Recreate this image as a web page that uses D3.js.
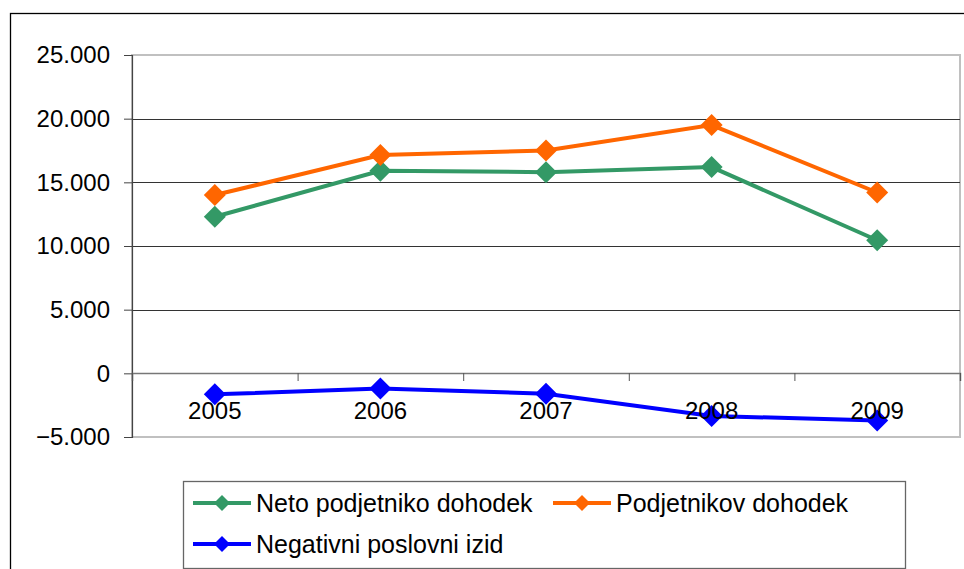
<!DOCTYPE html>
<html>
<head>
<meta charset="utf-8">
<script src="https://cdn.jsdelivr.net/npm/d3@7"></script>
<style>
  body { margin: 0; background: #fff; }
  svg { display: block; font-family: "Liberation Sans", Arial, sans-serif; }
</style>
</head>
<body>
<div id="chart-area"></div>
<script>
// data
var years = ['2005', '2006', '2007', '2008', '2009'];
var neto = [12300, 15900, 15800, 16200, 10450];
var podjetnikov = [14000, 17150, 17500, 19500, 14200];
var negativni = [-1650, -1200, -1600, -3350, -3700];
var yTicks = [-5000, 0, 5000, 10000, 15000, 20000, 25000];

var seriesNames = ['Neto podjetniko dohodek', 'Podjetnikov dohodek', 'Negativni poslovni izid'];
var seriesColors = ['#339966', '#ff6600', '#0000ff'];

var svgWidth = 964, svgHeight = 569;
var plot = {left: 132, right: 960, top: 55, bottom: 437};

var svg = d3.select('#chart-area')
  .append('svg')
  .attr('width', svgWidth)
  .attr('height', svgHeight);

// outer chart border (runs off the right and bottom edge)
svg.append('rect')
  .attr('x', 10.5).attr('y', 13.5)
  .attr('width', 1000).attr('height', 600)
  .attr('fill', 'none')
  .attr('stroke', '#000')
  .attr('stroke-width', 1.3);

var xScale = d3.scaleBand()
  .domain(years)
  .range([plot.left, plot.right])
  .padding(0);

var yScale = d3.scaleLinear()
  .domain([-5000, 25000])
  .range([plot.bottom, plot.top]);

var cx = function(d, i) { return xScale(years[i]) + xScale.bandwidth() / 2; };

var locale = d3.formatLocale({decimal: ',', thousands: '.', grouping: [3], currency: ['', '']});
var fmt = locale.format(',');

// plot area border
svg.append('rect')
  .attr('x', plot.left).attr('y', plot.top)
  .attr('width', plot.right - plot.left)
  .attr('height', plot.bottom - plot.top)
  .attr('fill', 'none')
  .attr('stroke', '#c0c0c0')
  .attr('stroke-width', 2);

// gridlines
svg.append('g')
  .selectAll('line')
  .data(yTicks.filter(function(t) { return t !== 0 && t !== 25000 && t !== -5000; }))
  .enter().append('line')
  .attr('x1', plot.left).attr('x2', plot.right)
  .attr('y1', function(d) { return Math.round(yScale(d)) + 0.5; })
  .attr('y2', function(d) { return Math.round(yScale(d)) + 0.5; })
  .attr('stroke', '#333')
  .attr('stroke-width', 1.2);

// y axis
var yAxis = d3.axisLeft(yScale)
  .tickValues(yTicks)
  .tickSize(8)
  .tickPadding(14)
  .tickFormat(function(d) { return fmt(d); });

var gy = svg.append('g')
  .attr('transform', 'translate(' + plot.left + ',0)')
  .call(yAxis);
gy.select('.domain').attr('stroke', '#444').attr('stroke-width', 1.2);
gy.selectAll('line').attr('stroke', '#444');
gy.selectAll('text')
  .attr('font-size', 24)
  .attr('font-family', '"Liberation Sans", Arial, sans-serif')
  .attr('fill', '#000');

// category axis along zero, ticks between categories
var edgeScale = d3.scaleLinear().domain([0, years.length]).range([plot.left, plot.right]);
var xAxis = d3.axisBottom(edgeScale)
  .tickValues(d3.range(years.length + 1))
  .tickSize(8)
  .tickFormat('');
var gx = svg.append('g')
  .attr('transform', 'translate(0,' + Math.round(yScale(0)) + ')')
  .call(xAxis);
gx.select('.domain').attr('stroke', '#777').attr('stroke-width', 1.5);
gx.selectAll('line').attr('stroke', '#555');

// series
var all = [neto, podjetnikov, negativni];
var line = d3.line()
  .x(cx)
  .y(function(d) { return yScale(d); });

function diamond(r) {
  return 'M0,' + (-r) + 'L' + r + ',0L0,' + r + 'L' + (-r) + ',0Z';
}

all.forEach(function(vals, k) {
  var g = svg.append('g');
  g.append('path')
    .datum(vals)
    .attr('d', line)
    .attr('fill', 'none')
    .attr('stroke', seriesColors[k])
    .attr('stroke-width', 4);
  g.selectAll('path.m')
    .data(vals)
    .enter().append('path')
    .attr('class', 'm')
    .attr('d', diamond(11))
    .attr('transform', function(d, i) { return 'translate(' + cx(d, i) + ',' + yScale(d) + ')'; })
    .attr('fill', seriesColors[k]);
});

// category labels (drawn on top, as in the reference)
svg.append('g')
  .selectAll('text')
  .data(years)
  .enter().append('text')
  .attr('x', function(d) { return xScale(d) + xScale.bandwidth() / 2; })
  .attr('y', 419)
  .attr('text-anchor', 'middle')
  .attr('font-size', 24)
  .attr('fill', '#000')
  .text(function(d) { return d; });

// legend
var legend = svg.append('g');
legend.append('rect')
  .attr('x', 183.5).attr('y', 481.5)
  .attr('width', 722).attr('height', 87)
  .attr('fill', '#fff')
  .attr('stroke', '#666')
  .attr('stroke-width', 1.3);

var legendPos = [[193, 503], [553, 503], [193, 544]];
seriesNames.forEach(function(name, k) {
  var p = legendPos[k];
  legend.append('line')
    .attr('x1', p[0]).attr('x2', p[0] + 58)
    .attr('y1', p[1]).attr('y2', p[1])
    .attr('stroke', seriesColors[k])
    .attr('stroke-width', 4);
  legend.append('path')
    .attr('d', diamond(8))
    .attr('transform', 'translate(' + (p[0] + 29) + ',' + p[1] + ')')
    .attr('fill', seriesColors[k]);
  legend.append('text')
    .attr('x', p[0] + 63)
    .attr('y', p[1] + 9)
    .attr('font-size', 25)
    .attr('fill', '#000')
    .text(name);
});
</script>
</body>
</html>
